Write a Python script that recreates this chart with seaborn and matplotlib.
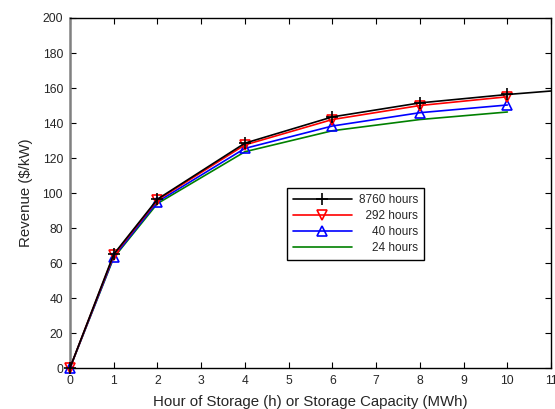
import matplotlib
matplotlib.use("Agg")
import matplotlib.pyplot as plt
import seaborn as sns
import pandas as pd

# Data
x_main = [0, 1, 2, 4, 6, 8, 10]
y_8760 = [0, 65, 96.5, 128.5, 143.5, 151.5, 156.3]
x_tail = [10, 11]
y_8760_tail = [156.3, 158.3]
y_292 = [0, 64.5, 96, 127.5, 142, 150, 155]
y_40 = [0, 63.5, 95, 125.5, 138.3, 145.9, 150.3]
y_24 = [0, 63, 94, 123.6, 135.6, 142, 146.3]
labels = ["8760 hours", "\u2007292 hours", "\u2007\u200740 hours", "\u2007\u200724 hours"]
x_ticks = list(range(0, 12))
y_ticks = list(range(0, 201, 20))

sns.set_theme(style="white")
plt.rcParams["font.family"] = ["Liberation Sans", "DejaVu Sans"]

fig = plt.figure(figsize=(5.55, 4.09), dpi=100)
ax = fig.add_axes([0.126, 0.100, 0.867, 0.856])

d1 = pd.DataFrame({"x": x_main, "y": y_8760})
d1t = pd.DataFrame({"x": x_tail, "y": y_8760_tail})
d2 = pd.DataFrame({"x": x_main, "y": y_292})
d3 = pd.DataFrame({"x": x_main, "y": y_40})
d4 = pd.DataFrame({"x": x_main, "y": y_24})

sns.lineplot(data=d4, x="x", y="y", ax=ax, color="#008000", lw=1.2,
             label=labels[3], zorder=2, clip_on=False)
sns.lineplot(data=d3, x="x", y="y", ax=ax, color="#0000ff", lw=1.2,
             marker="^", markersize=7, markerfacecolor="none",
             markeredgecolor="#0000ff", markeredgewidth=1.2,
             label=labels[2], zorder=3, clip_on=False)
sns.lineplot(data=d2, x="x", y="y", ax=ax, color="#ff0000", lw=1.2,
             marker="v", markersize=7, markerfacecolor="none",
             markeredgecolor="#ff0000", markeredgewidth=1.2,
             label=labels[1], zorder=4, clip_on=False)
sns.lineplot(data=d1, x="x", y="y", ax=ax, color="black", lw=1.2,
             marker="+", markersize=9, markeredgewidth=1.2,
             markeredgecolor="black", markerfacecolor="black",
             label=labels[0], zorder=5, clip_on=False)
sns.lineplot(data=d1t, x="x", y="y", ax=ax, color="black", lw=1.2,
             zorder=5, legend=False)

ax.set_xlim(0, 11)
ax.set_ylim(0, 200)
ax.set_xticks(x_ticks)
ax.set_yticks(y_ticks)
ax.tick_params(direction="in", length=4, width=0.8, labelsize=8.7,
               top=True, right=True, bottom=True, left=True, pad=5,
               colors="black", labelcolor="#262626")
for s in ["top", "right", "bottom"]:
    ax.spines[s].set_color("black")
    ax.spines[s].set_linewidth(1.0)
ax.spines["left"].set_color("#808080")
ax.spines["left"].set_linewidth(1.8)

ax.set_xlabel("Hour of Storage (h) or Storage Capacity (MWh)", fontsize=10.8,
              color="#262626", labelpad=6)
ax.set_ylabel("Revenue ($/kW)", fontsize=10.8, color="#262626", labelpad=7)

handles, labs = ax.get_legend_handles_labels()
order = [3, 2, 1, 0]
leg = ax.legend([handles[i] for i in order], [labs[i] for i in order],
                loc="upper left", bbox_to_anchor=(0.451, 0.514),
                fontsize=8.5, handlelength=5.0, handletextpad=0.6,
                labelspacing=0.35, borderpad=0.5, fancybox=False,
                framealpha=1, edgecolor="black", borderaxespad=0)
leg.get_frame().set_linewidth(1.0)

fig.savefig("out.png", dpi=100)
